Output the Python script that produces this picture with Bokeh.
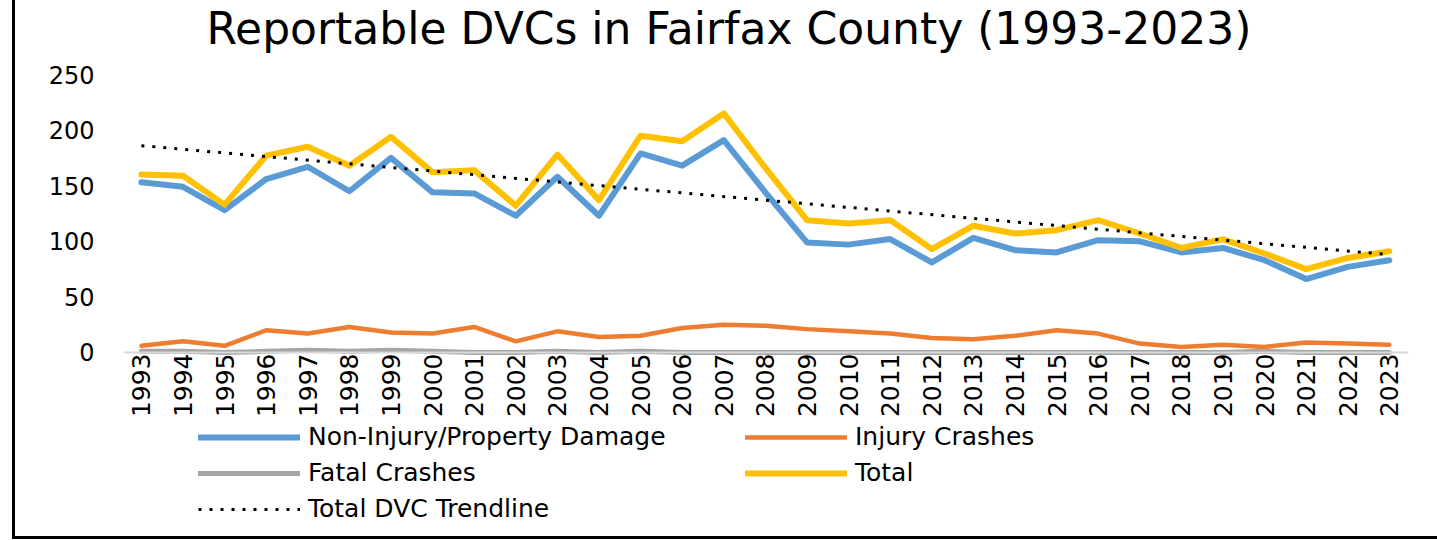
import math
from bokeh.plotting import figure
from bokeh.models import Range1d, FixedTicker, Legend, LegendItem, Title
from bokeh.embed import file_html
from bokeh.resources import INLINE

title_text = "Reportable DVCs in Fairfax County (1993-2023)"
years = list(range(1993, 2024))
non_injury = [153, 149, 128, 156, 167, 145, 175, 144, 143, 123, 158, 123, 179, 168, 191, 144,
              99, 97, 102, 81, 103, 92, 90, 101, 100, 90, 94, 83, 66, 77, 83]
injury = [6, 10, 6, 20, 17, 23, 18, 17, 23, 10, 19, 14, 15, 22, 25, 24,
          21, 19, 17, 13, 12, 15, 20, 17, 8, 5, 7, 5, 9, 8, 7]
fatal = [1, 1, 0, 1, 2, 1, 2, 1, 0, 0, 1, 0, 1, 0, 0, 0,
         0, 0, 0, 0, 0, 0, 0, 0, 0, 0, 0, 1, 0, 0, 0]
total = [160, 159, 133, 177, 185, 168, 194, 162, 164, 132, 178, 137, 195, 190, 215, 166,
         119, 116, 119, 93, 114, 107, 110, 119, 107, 94, 102, 89, 75, 85, 91]
trend_years = [1993, 2023]
trend_values = [186, 88]
y_ticks = [0, 50, 100, 150, 200, 250]

FONT = "DejaVu Sans"

# frame extends below the value axis so the legend can sit inside it;
# the x axis is pinned at y = 0.
p = figure(frame_width=1285, frame_height=462, output_backend="svg", toolbar_location=None,
           x_range=Range1d(1992.57, 2023.46), y_range=Range1d(-165.5, 250),
           min_border_left=108, min_border_right=29, min_border_top=74, min_border_bottom=0)
p.styles = {"margin-left": "12px", "border-left": "3px solid black",
            "border-bottom": "3px solid black", "box-sizing": "content-box"}
p.outline_line_color = None
p.background_fill_color = "white"
p.border_fill_color = None
p.xgrid.visible = False
p.ygrid.visible = False

r_non = p.line(years, non_injury, line_color="#5B9BD5", line_width=6, line_join="round", line_cap="round")
r_inj = p.line(years, injury, line_color="#ED7D31", line_width=4.5, line_join="round", line_cap="round")
r_fat = p.line(years, fatal, line_color="#A5A5A5", line_width=5, line_join="round", line_cap="round")
r_tot = p.line(years, total, line_color="#FFC000", line_width=6, line_join="round", line_cap="round")
r_trd = p.line(trend_years, trend_values, line_color="black", line_width=3, line_dash="3 8")

# axes
xa = p.xaxis[0]
xa.fixed_location = 0
xa.ticker = FixedTicker(ticks=years)
xa.major_label_orientation = math.pi / 2
xa.major_label_text_font = FONT
xa.major_label_text_font_size = "25px"
xa.major_label_text_color = "black"
xa.major_tick_line_color = None
xa.minor_tick_line_color = None
xa.axis_line_color = "#D9D9D9"
xa.axis_line_width = 2
xa.major_label_standoff = -5

ya = p.yaxis[0]
ya.ticker = FixedTicker(ticks=y_ticks)
ya.major_label_text_font = FONT
ya.major_label_text_font_size = "24px"
ya.major_label_text_color = "black"
ya.major_tick_line_color = None
ya.minor_tick_line_color = None
ya.axis_line_color = None
ya.major_label_standoff = 23

# real title, with a spacer title between it and the frame
p.title.text = title_text
p.title.text_font = FONT
p.title.text_font_size = "44px"
p.title.text_font_style = "normal"
p.title.text_color = "black"
p.title.align = "left"
p.title.offset = 83
p.title.standoff = 0
spacer = Title(text=" ", text_font_size="1px", standoff=18)
p.add_layout(spacer, "above")

legend = Legend(items=[
    LegendItem(label="Non-Injury/Property Damage", renderers=[r_non]),
    LegendItem(label="Fatal Crashes", renderers=[r_fat]),
    LegendItem(label="Total DVC Trendline", renderers=[r_trd]),
    LegendItem(label="Injury Crashes", renderers=[r_inj]),
    LegendItem(label="Total", renderers=[r_tot]),
], orientation="vertical", nrows=3, location=(75, 13))
legend.label_text_font = FONT
legend.label_text_font_size = "25px"
legend.label_text_color = "black"
legend.glyph_width = 102
legend.glyph_height = 28
legend.label_height = 28
legend.label_width = 430
legend.label_standoff = 8
legend.spacing = 7
legend.padding = 0
legend.margin = 0
legend.border_line_color = None
legend.background_fill_alpha = 0
p.add_layout(legend, "center")

open("out.html", "w").write(file_html(p, INLINE))
